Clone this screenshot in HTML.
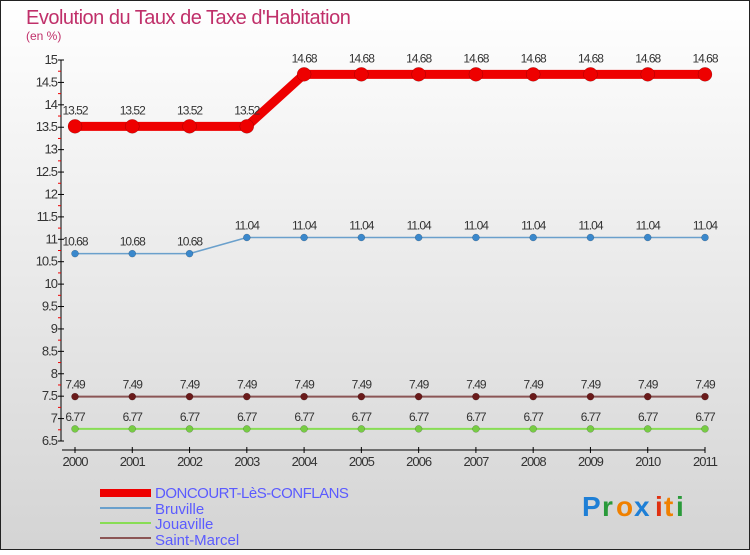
<!DOCTYPE html>
<html><head><meta charset="utf-8"><style>
body{margin:0}
#c{width:750px;height:550px;position:relative;font-family:"Liberation Sans",sans-serif}
text{font-family:"Liberation Sans",sans-serif}
</style></head><body>
<div id="c">
<svg id="s" width="750" height="550" xmlns="http://www.w3.org/2000/svg">
<defs><linearGradient id="bg" x1="0" y1="0" x2="0" y2="1"><stop offset="0" stop-color="#ffffff"/><stop offset="1" stop-color="#d4d4d4"/></linearGradient></defs>
<rect x="0.5" y="0.5" width="749" height="549" fill="url(#bg)" stroke="#222"/>
<text x="26" y="24" font-size="20" fill="#c0306a" letter-spacing="-0.5">Evolution du Taux de Taxe d'Habitation</text>
<text x="26" y="40" font-size="12" fill="#c0306a">(en %)</text>
<g id="axes"></g><g id="series"></g>
<g>
<rect x="100" y="489" width="51" height="8" fill="#e00"/>
<text x="155" y="498" font-size="15" fill="#5b5bff" letter-spacing="-0.5">DONCOURT-LèS-CONFLANS</text>
<rect x="100" y="507" width="51" height="2" fill="#6aa0cc"/>
<text x="155" y="514" font-size="15" fill="#5b5bff">Bruville</text>
<rect x="100" y="522" width="51" height="2" fill="#88dd55"/>
<text x="155" y="529" font-size="15" fill="#5b5bff">Jouaville</text>
<rect x="100" y="537" width="51" height="2" fill="#8b5555"/>
<text x="155" y="545" font-size="15" fill="#5b5bff">Saint-Marcel</text>
</g>
<g font-size="28" font-weight="bold">
<text x="582" y="516" fill="#1e7fd6">P</text><text x="602" y="516" fill="#2a9a3a">r</text><text x="616" y="516" fill="#f08000">o</text><text x="634" y="516" fill="#1e7fd6">x</text><text x="655" y="516" fill="#e03010">i</text><text x="664" y="516" fill="#f08000">t</text><text x="676" y="516" fill="#2a9a3a">i</text>
</g>
</svg></div>
<script>
const years=["2000","2001","2002","2003","2004","2005","2006","2007","2008","2009","2010","2011"];
const doncourt=[13.52,13.52,13.52,13.52,14.68,14.68,14.68,14.68,14.68,14.68,14.68,14.68];
const bruville=[10.68,10.68,10.68,11.04,11.04,11.04,11.04,11.04,11.04,11.04,11.04,11.04];
const jouaville=[6.77,6.77,6.77,6.77,6.77,6.77,6.77,6.77,6.77,6.77,6.77,6.77];
const saintMarcel=[7.49,7.49,7.49,7.49,7.49,7.49,7.49,7.49,7.49,7.49,7.49,7.49];
const yTicks=[6.5,7,7.5,8,8.5,9,9.5,10,10.5,11,11.5,12,12.5,13,13.5,14,14.5,15];
const NS="http://www.w3.org/2000/svg";
const X=i=>75+i*(705-75)/(years.length-1);
const Y=v=>441-(v-6.5)*(381/8.5);
function mk(t,a,p){const e=document.createElementNS(NS,t);for(const k in a)e.setAttribute(k,a[k]);p.appendChild(e);return e;}
const ax=document.getElementById('axes');
let e=mk('line',{x1:61,y1:Y(15),x2:61,y2:Y(6.5),stroke:'#000'},ax);


e=mk('line',{x1:62,y1:450,x2:X(years.length-1),y2:450,stroke:'#000'},ax);


yTicks.forEach((v,i)=>{
 mk('line',{x1:58,y1:Y(v),x2:64,y2:Y(v),stroke:'#000'},ax);
 if(i<yTicks.length-1) mk('line',{x1:58,y1:Y(v+0.25),x2:61,y2:Y(v+0.25),stroke:'#e00'},ax);
 const t=mk('text',{x:57,y:Y(v)+4,'font-size':13,fill:'#333','text-anchor':'end','letter-spacing':'-1'},ax);
 t.textContent=String(v);
 
 
});
years.forEach((y,i)=>{
 mk('line',{x1:X(i),y1:447,x2:X(i),y2:453,stroke:'#000'},ax);
 const t=mk('text',{x:X(i),y:466,'font-size':13,fill:'#333','text-anchor':'middle','letter-spacing':'-1'},ax);
 t.textContent=y;
 
 
});
const sg=document.getElementById('series');
function series(vals,name,col,w,r,dot,dy){
 const g=mk('g',{},sg);
 
 
 mk('polyline',{points:vals.map((v,i)=>X(i)+','+Y(v)).join(' '),fill:'none',stroke:col,'stroke-width':w,'stroke-linejoin':'round'},g);
 vals.forEach((v,i)=>{
  const c=mk('circle',{cx:X(i),cy:Y(v),r:r,fill:dot,stroke:'rgba(0,0,0,0.3)','stroke-width':0.5},g);
  
  
  const t=mk('text',{x:X(i),y:Y(v)-dy,'font-size':12,fill:'#333','text-anchor':'middle','letter-spacing':'-1'},g);
  t.textContent=String(v);
  
  
 });
}
series(saintMarcel,'saint-marcel','#8b5555',2,3.5,'#6a1a1a',8);
series(jouaville,'jouaville','#88dd55',2,3.5,'#77cc44',8);
series(bruville,'bruville','#6aa0cc',1.5,3.5,'#3a88cc',8);
series(doncourt,'doncourt','#e00',9,7,'#e00',12);
</script>
</body></html>
